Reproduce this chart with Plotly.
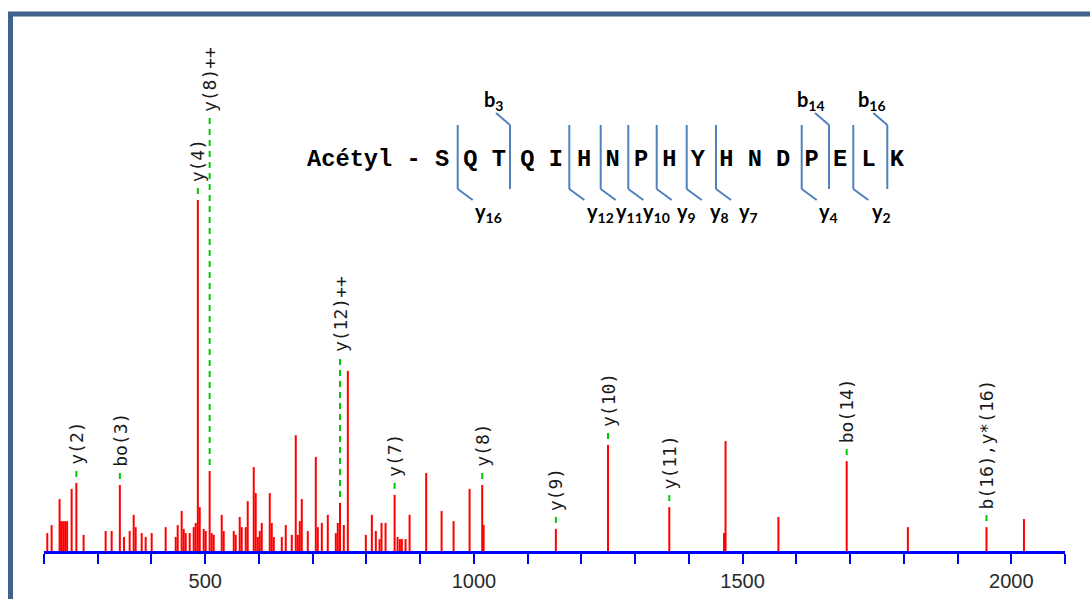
import plotly.graph_objects as go

# ---------------------------------------------------------------- data ----
# MS/MS peak list: m/z and relative intensity (% of base peak)
mz = [206.1, 214.2, 229.0, 231.8, 235.6, 239.3, 243.0, 251.4, 260.20, 273.7,
      314.7, 325.9, 341.15, 348.8, 359.4, 366.9, 370.6, 381.8, 389.2, 400.4,
      426.4, 445.1, 448.8, 456.2, 460.0, 463.7, 471.1, 478.6, 482.3, 486.29,
      489.8, 497.2, 500.9, 508.25, 512.1, 515.8, 530.7, 534.4, 553.1, 556.8,
      564.2, 567.9, 575.4, 579.1, 590.3, 594.0, 597.8, 601.5, 605.2, 620.1,
      623.8, 627.6, 642.5, 649.9, 661.1, 668.5, 672.3, 676.0, 679.7, 690.9,
      705.8, 709.5, 717.0, 728.1, 743.0, 746.7, 750.85, 757.9, 765.4, 798.9,
      810.1, 817.5, 824.4, 828.1, 835.6, 852.42, 857.9, 862.2, 865.9, 872.8,
      880.3, 911.2, 939.9, 962.2, 992.0, 1015.48, 1018.1, 1152.54, 1249.60, 1363.64,
      1465.5, 1468.3, 1566.7, 1693.75, 1807.6, 1953.89, 2023.6]
intensity = [5.1, 7.4, 14.8, 8.5, 8.5, 8.5, 8.5, 17.7, 19.4, 4.6,
             5.7, 5.7, 18.8, 4.0, 5.7, 10.3, 6.8, 5.1, 4.0, 5.1,
             6.8, 4.0, 7.4, 11.4, 6.3, 5.1, 5.1, 6.8, 8.0, 100.0,
             12.5, 6.3, 5.7, 22.8, 5.1, 4.6, 10.3, 5.7, 5.7, 4.6,
             9.7, 6.8, 6.8, 14.2, 23.9, 16.5, 4.0, 5.7, 8.0, 16.5,
             8.0, 4.0, 4.0, 7.4, 4.6, 33.0, 4.6, 8.5, 14.8, 5.7,
             26.8, 6.8, 8.0, 10.3, 5.1, 8.0, 13.7, 7.4, 51.3, 4.6,
             10.3, 5.7, 3.4, 8.0, 8.0, 16.0, 4.0, 3.4, 3.4, 3.4,
             10.3, 22.2, 11.4, 8.5, 17.7, 18.8, 7.4, 6.3, 30.2, 12.5,
             5.1, 31.3, 9.7, 25.6, 6.8, 6.8, 9.1]

# assigned fragment ions (label, m/z of the matched peak)
ion_labels = ["y(2)", "bo(3)", "y(4)", "y(8)++", "y(12)++", "y(7)", "y(8)",
              "y(9)", "y(10)", "y(11)", "bo(14)", "b(16),y*(16)"]
ion_mz = [260.20, 341.15, 486.29, 508.25, 750.85, 852.42, 1015.48,
          1152.54, 1249.60, 1363.64, 1693.75, 1953.89]

# peptide sequence and observed cleavages
modification = "Acétyl"
sequence = "SQTQIHNPHYHNDPELK"
fragment_types = ["y", "b", "y", "y", "y", "y", "y", "y", "y", "b", "y", "b"]
fragment_numbers = ["16", "3", "12", "11", "10", "9", "8", "7", "4", "14", "2", "16"]

tick_values = list(range(200, 2101, 100))
tick_labels = [str(v) if v % 500 == 0 else "" for v in tick_values]

# -------------------------------------------------------------- layout ----
W, H = 1090, 599
M = dict(l=44, r=25, t=0, b=48)
PLOT_H = H - M["t"] - M["b"]
Y_TOP = 156.98                 # y-axis upper bound (intensity units)
PX = Y_TOP / PLOT_H            # intensity units per pixel


def fx(p):
    """pixel column -> paper x"""
    return (p - M["l"]) / (W - M["l"] - M["r"])


def fy(p):
    """pixel row -> paper y"""
    return (H - M["b"] - p) / PLOT_H


fig = go.Figure()

# spectrum sticks
sx, sy = [], []
for m, i in zip(mz, intensity):
    sx += [m, m, None]
    sy += [0, i, None]
fig.add_trace(go.Scatter(x=sx, y=sy, mode="lines",
                         line=dict(color="#ff0000", width=2),
                         hoverinfo="skip", showlegend=False))

# ion labels with green leader lines
raised_label = {"y(8)++": 124.8, "y(12)++": 56.4}
peak_height = dict(zip(mz, intensity))
label_font = dict(family="DejaVu Sans Mono", size=18, color="#1a1a1a")
for lab, m in zip(ion_labels, ion_mz):
    top = peak_height[m]
    base = raised_label.get(lab, top + 17 * PX)
    fig.add_trace(go.Scatter(x=[m, m], y=[top + 6 * PX, base - 5 * PX], mode="lines",
                             line=dict(color="#00c800", width=2, dash="6px,5px"),
                             hoverinfo="skip", showlegend=False))
    fig.add_annotation(x=m, y=base, text=lab, textangle=-90, showarrow=False,
                       xanchor="center", yanchor="bottom", font=label_font,
                       borderpad=0)

# peptide sequence line
seq_text = modification + " - " + " ".join(sequence)
fig.add_annotation(xref="paper", yref="paper", x=fx(306), y=fy(160),
                   text="<b>" + seq_text + "</b>", showarrow=False,
                   xanchor="left", yanchor="middle", borderpad=0,
                   font=dict(family="Liberation Mono", size=23.7, color="#000000"))

# cleavage brackets: bar column and label column (px)
bar_x = [457.7, 510.0, 569.3, 600.7, 628.3, 656.7, 686.7, 716.0, 801.7, 829.0, 853.3, 887.3]
tag_x = [474.0, 493.0, 585.5, 614.5, 642.0, 676.0, 709.0, 737.5, 817.5, 811.0, 871.0, 871.5]
BAR_TOP, BAR_BOTTOM = 125, 189
blue = "#4f81bd"
tag_font = dict(family="Lato", size=20, color="#000000")
for kind, num, bx, tx in zip(fragment_types, fragment_numbers, bar_x, tag_x):
    fig.add_shape(type="line", xref="paper", yref="paper",
                  x0=fx(bx), x1=fx(bx), y0=fy(BAR_TOP), y1=fy(BAR_BOTTOM),
                  line=dict(color=blue, width=2))
    if kind == "y":
        fig.add_shape(type="line", xref="paper", yref="paper",
                      x0=fx(bx), x1=fx(bx + 15), y0=fy(BAR_BOTTOM), y1=fy(200),
                      line=dict(color=blue, width=2))
        fig.add_annotation(xref="paper", yref="paper", x=fx(tx), y=fy(212),
                           text="<b>y<sub>" + num + "</sub></b>", showarrow=False,
                           xanchor="left", yanchor="middle", borderpad=0, font=tag_font)
    else:
        fig.add_shape(type="line", xref="paper", yref="paper",
                      x0=fx(bx), x1=fx(bx - 14), y0=fy(BAR_TOP), y1=fy(113),
                      line=dict(color=blue, width=2))
        fig.add_annotation(xref="paper", yref="paper", x=fx(tx), y=fy(101),
                           text="<b>b<sub>" + num + "</sub></b>", showarrow=False,
                           xanchor="center", yanchor="middle", borderpad=0, font=tag_font)

# outer frame
fig.add_shape(type="rect", xref="paper", yref="paper",
              x0=fx(10.5), x1=fx(1110), y0=fy(14), y1=fy(640),
              line=dict(color="#41628f", width=5), fillcolor="rgba(0,0,0,0)")

fig.update_xaxes(range=[200, 2100], showgrid=False, zeroline=False,
                 showline=True, linecolor="#0000ff", linewidth=3,
                 ticks="outside", ticklen=10, tickwidth=2, tickcolor="#0000ff",
                 tickvals=tick_values, ticktext=tick_labels,
                 tickfont=dict(family="Liberation Sans", size=20, color="#2a2a2a"))
fig.update_yaxes(range=[0, Y_TOP], visible=False)

fig.update_layout(width=W, height=H, margin=M,
                  paper_bgcolor="white", plot_bgcolor="white",
                  showlegend=False)

fig.write_html("out.html")
